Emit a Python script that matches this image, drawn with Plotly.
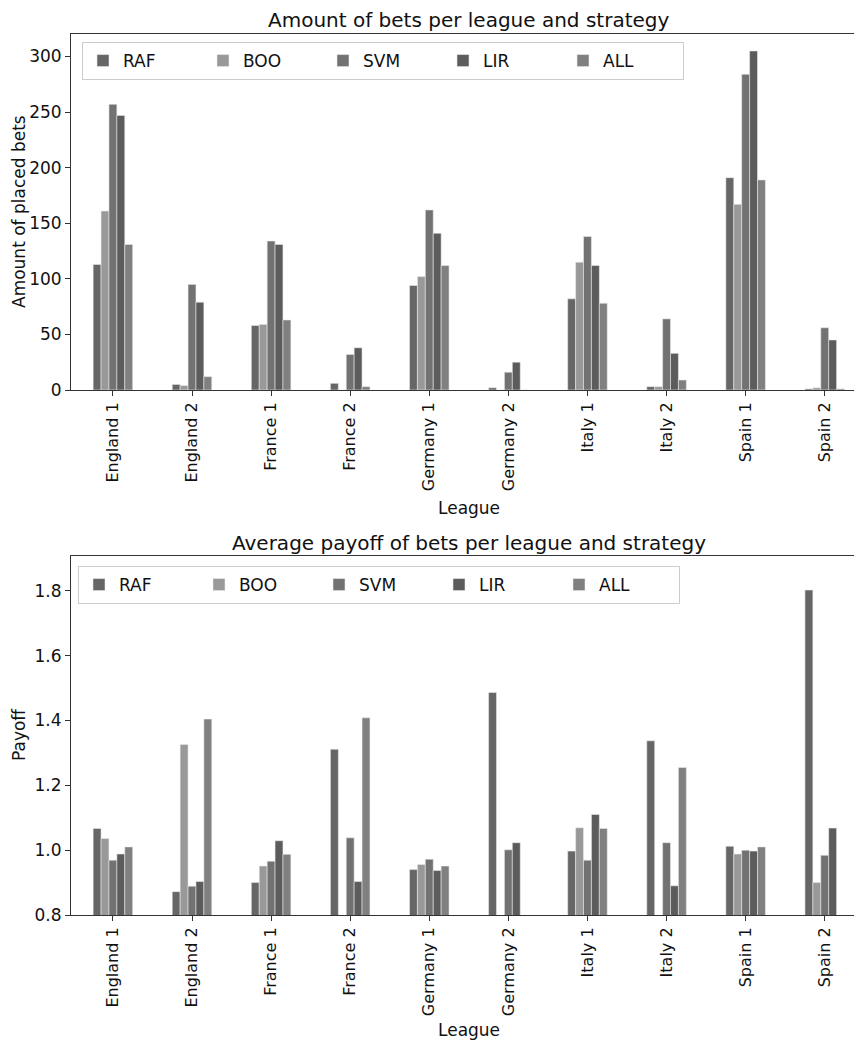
import plotly.graph_objects as go
from plotly.subplots import make_subplots

leagues = ["England 1", "England 2", "France 1", "France 2", "Germany 1",
           "Germany 2", "Italy 1", "Italy 2", "Spain 1", "Spain 2"]
strategies = ["RAF", "BOO", "SVM", "LIR", "ALL"]

bets_RAF = [113, 5, 58, 6, 94, 2, 82, 3, 191, 1]
bets_BOO = [161, 4, 59, 0, 102, 0, 115, 3, 167, 2]
bets_SVM = [257, 95, 134, 32, 162, 16, 138, 64, 284, 56]
bets_LIR = [247, 79, 131, 38, 141, 25, 112, 33, 305, 45]
bets_ALL = [131, 12, 63, 3, 112, 0, 78, 9, 189, 1]

pay_RAF = [1.067, 0.872, 0.900, 1.311, 0.940, 1.486, 0.997, 1.337, 1.012, 1.802]
pay_BOO = [1.036, 1.326, 0.951, None, 0.956, None, 1.069, 0.0, 0.988, 0.900]
pay_SVM = [0.969, 0.889, 0.966, 1.038, 0.972, 1.001, 0.969, 1.023, 1.000, 0.984]
pay_LIR = [0.988, 0.903, 1.029, 0.903, 0.937, 1.023, 1.110, 0.890, 0.997, 1.068]
pay_ALL = [1.010, 1.404, 0.987, 1.408, 0.951, None, 1.067, 1.255, 1.010, 0.0]

colors = ["#666666", "#999999", "#727272", "#5c5c5c", "#808080"]

bets = [bets_RAF, bets_BOO, bets_SVM, bets_LIR, bets_ALL]
pays = [pay_RAF, pay_BOO, pay_SVM, pay_LIR, pay_ALL]

FONT = "DejaVu Sans, Liberation Sans, sans-serif"
W, H = 855, 1044
ML, MR, MT, MB = 71, 1, 34, 129
PH = H - MT - MB  # plot height in px


def py(p):
    """pixel row -> paper y"""
    return (H - MB - p) / PH


def px(p):
    return (p - ML) / (W - ML - MR)


fig = make_subplots(rows=2, cols=1)
fig.update_layout(
    yaxis=dict(domain=[py(390), 1.0]),
    yaxis2=dict(domain=[0.0, py(556)]),
    xaxis=dict(domain=[0, 1]),
    xaxis2=dict(domain=[0, 1]),
)

idx = list(range(len(leagues)))
for s, c, b, p in zip(strategies, colors, bets, pays):
    fig.add_trace(go.Bar(x=idx, y=b, name=s, marker=dict(color=c, line=dict(color="rgba(235,235,235,0.8)", width=0.7)),
                         legend="legend"), row=1, col=1)
    fig.add_trace(go.Bar(x=idx, y=p, name=s, marker=dict(color=c, line=dict(color="rgba(235,235,235,0.8)", width=0.7)),
                         legend="legend2"), row=2, col=1)

xcommon = dict(
    range=[-0.53, 9.37], tickmode="array", tickvals=idx, ticktext=leagues,
    tickangle=-90, ticks="outside", ticklen=5, tickcolor="#333",
    showline=True, linecolor="#333", linewidth=1, mirror=True, automargin=False,
    showgrid=False, zeroline=False, tickfont=dict(family=FONT, size=16, color="#111"),
)
fig.update_xaxes(**xcommon)

fig.update_yaxes(range=[0, 320.25], tickvals=[0, 50, 100, 150, 200, 250, 300], row=1, col=1)
fig.update_yaxes(range=[0.8, 1.907], tickvals=[0.8, 1.0, 1.2, 1.4, 1.6, 1.8],
                 ticktext=["0.8", "1.0", "1.2", "1.4", "1.6", "1.8"], row=2, col=1)
fig.update_yaxes(ticks="outside", ticklen=5, tickcolor="#333", showline=True, linecolor="#333",
                 linewidth=1, showgrid=False, zeroline=False, automargin=False,
                 tickfont=dict(family=FONT, size=17, color="#111"))

leg = dict(orientation="h", xref="paper", yref="paper", xanchor="left", yanchor="top",
           bgcolor="rgba(255,255,255,0.8)", bordercolor="#cccccc", borderwidth=1,
           font=dict(family=FONT, size=17, color="#111"), entrywidth=75, entrywidthmode="pixels",
           traceorder="normal")

fig.update_layout(
    width=W, height=H,
    margin=dict(l=ML, r=MR, t=MT, b=MB, pad=0, autoexpand=False),
    paper_bgcolor="white", plot_bgcolor="white",
    barmode="group", bargap=0.5, bargroupgap=0,
    font=dict(family=FONT, size=17, color="#111"),
    legend=dict(leg, x=px(82), y=py(42)),
    legend2=dict(leg, x=px(78), y=py(566)),
    annotations=[
        dict(text="Amount of bets per league and strategy", x=px(469), y=py(20), xref="paper", yref="paper",
             showarrow=False, font=dict(family=FONT, size=20, color="#111"), xanchor="center", yanchor="middle"),
        dict(text="Average payoff of bets per league and strategy", x=px(469), y=py(543), xref="paper",
             yref="paper", showarrow=False, font=dict(family=FONT, size=20, color="#111"),
             xanchor="center", yanchor="middle"),
        dict(text="League", x=px(469), y=py(508), xref="paper", yref="paper", showarrow=False,
             font=dict(family=FONT, size=17, color="#111"), xanchor="center", yanchor="middle"),
        dict(text="League", x=px(469), y=py(1030), xref="paper", yref="paper", showarrow=False,
             font=dict(family=FONT, size=17, color="#111"), xanchor="center", yanchor="middle"),
        dict(text="Amount of placed bets", x=px(19), y=py(212), xref="paper", yref="paper", showarrow=False,
             textangle=-90, font=dict(family=FONT, size=17, color="#111"), xanchor="center", yanchor="middle"),
        dict(text="Payoff", x=px(19), y=py(735), xref="paper", yref="paper", showarrow=False,
             textangle=-90, font=dict(family=FONT, size=17, color="#111"), xanchor="center", yanchor="middle"),
    ],
)

fig.write_html("out.html", config={"displayModeBar": False},
               post_script="document.body.style.margin='0';document.body.style.overflow='hidden';")
